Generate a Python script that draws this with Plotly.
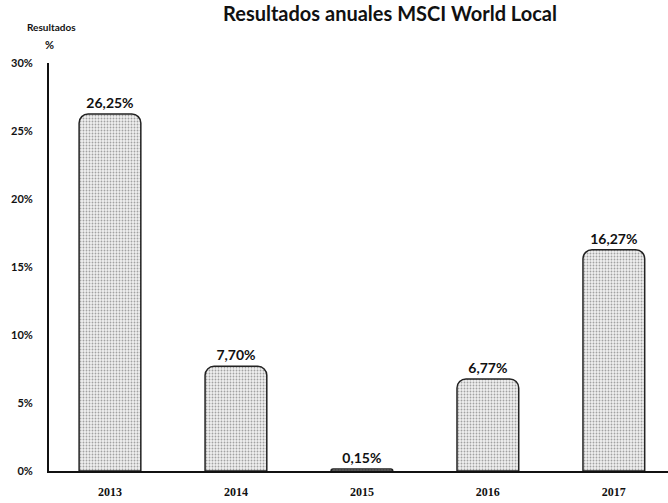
import plotly.graph_objects as go

years = ["2013", "2014", "2015", "2016", "2017"]
values = [26.25, 7.70, 0.15, 6.77, 16.27]
ytick_vals = [0, 5, 10, 15, 20, 25, 30]
ytick_text = ["0%", "5%", "10%", "15%", "20%", "25%", "30%"]

labels = [f"{v:.2f}".replace(".", ",") + "%" for v in values]

W, H = 668, 503
fig = go.Figure(go.Bar(
    x=years, y=values, width=0.49,
    text=labels, textposition="outside", cliponaxis=False,
    textfont=dict(family="Lato", size=14, color="#111", weight="bold"),
    marker=dict(
        color="#eeeeee",
        line=dict(color="#222", width=1.5),
        cornerradius=9,
        pattern=dict(shape=".", fgcolor="#555", bgcolor="#efefef", size=3, solidity=0.3),
    ),
))

fig.update_layout(
    width=W, height=H,
    margin=dict(l=49, r=0, t=63, b=32),
    paper_bgcolor="white", plot_bgcolor="white",
    showlegend=False,
    title=dict(text="<b>Resultados anuales MSCI World Local</b>",
               x=390 / W, xanchor="center", y=1 - 14 / H, yanchor="middle",
               font=dict(family="Lato", size=20, color="#111")),
    annotations=[
        dict(text="<b>Resultados</b>", xref="paper", yref="paper",
             x=(51 - 49) / (W - 49), y=1 + (63 - 27) / 408, xanchor="center", yanchor="middle",
             showarrow=False, font=dict(family="Lato", size=10, color="#111")),
        dict(text="<b>%</b>", xref="paper", yref="paper",
             x=0, y=1 + (63 - 45) / 408, xanchor="center", yanchor="middle",
             showarrow=False, font=dict(family="Lato", size=11, color="#111")),
    ],
    xaxis=dict(range=[-0.484, 4.43], showgrid=False, showline=True, linecolor="#111",
               linewidth=2, ticks="", tickfont=dict(family="Liberation Serif", size=12,
               color="#111", weight="bold"), ticklabelstandoff=9),
    yaxis=dict(range=[0, 30], tickvals=ytick_vals, ticktext=ytick_text, showgrid=False,
               showline=True, linecolor="#111", linewidth=2, ticks="", zeroline=False,
               ticklabelstandoff=12,
               tickfont=dict(family="Lato", size=11, color="#111", weight="bold")),
)

fig.write_html("out.html", config={"displayModeBar": False},
               post_script="document.body.style.margin='0';")
